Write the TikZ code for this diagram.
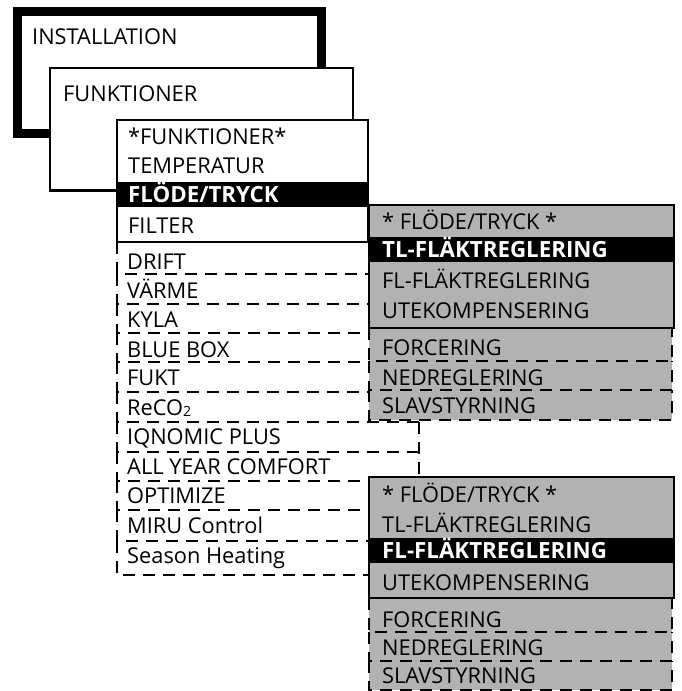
\documentclass[tikz,border=0pt]{standalone}
\usepackage{fontspec}
\setmainfont{Open Sans}
\definecolor{panelgray}{RGB}{178,178,178}
\begin{document}
\begin{tikzpicture}[x=1pt,y=-1pt,
  lbl/.style={anchor=base west,inner sep=0pt,font=\fontsize{21.8}{24}\selectfont},
  hl/.style={anchor=base west,inner sep=0pt,text=white,font=\fontsize{22.3}{24}\selectfont\bfseries},
  dsh/.style={line width=2.3pt,dash pattern=on 12pt off 8pt},
  solidbox/.style={draw=black,line width=2.2pt},
  graybox/.style={draw=black,line width=1.8pt,fill=panelgray}]
\useasboundingbox (0,0) rectangle (681,691);

% INSTALLATION frame
\draw[line width=8.5pt,fill=white] (17.5,11.5) rectangle (321.5,133.5);
\node[lbl] (inst) at (32,44) {INSTALLATION};

% FUNKTIONER frame
\draw[solidbox,fill=white] (50,68) rectangle (353,190.5);
\node[lbl] (funk) at (63,101.5) {FUNKTIONER};

% dashed list rows
\foreach \t/\b in {242/274,274/304,304/333,333/362,362/392,392/422,422/452,452/481,481/510,510/541,541/575}{
  \draw[dsh] (117,\t) -- (117,\b) -- (419,\b);
}
\draw[dsh] (419,242) -- (419,575);
\node[lbl] (drift) at (127,269) {DRIFT};
\node[lbl] (varme) at (127,298) {VÄRME};
\node[lbl] (kyla) at (127,327) {KYLA};
\node[lbl] (bluebox) at (127,357) {BLUE BOX};
\node[lbl] (fukt) at (127,385) {FUKT};
\node[lbl] (reco) at (127,415) {ReCO{\fontsize{14}{16}\selectfont\raisebox{-1pt}{2}}};
\node[lbl] (iqn) at (127,444) {IQNOMIC PLUS};
\node[lbl] (ayc) at (127,474) {ALL YEAR COMFORT};
\node[lbl] (opt) at (127,503) {OPTIMIZE};
\node[lbl] (miru) at (127,533) {MIRU Control};
\node[lbl] (season) at (127,563) {Season Heating};

% white function list
\draw[solidbox,fill=white] (117.3,120.3) rectangle (368,242);
\fill[black] (117.3,181.5) rectangle (368,207);
\node[lbl] (fhead) at (128,144) {*FUNKTIONER*};
\node[lbl] (temp) at (128,173) {TEMPERATUR};
\node[hl] (flode) at (128,202) {FLÖDE/TRYCK};
\node[lbl] (filter) at (128,233) {FILTER};

% gray panel 1
\fill[panelgray] (369,328) rectangle (672,420);
\foreach \t/\b in {328/361,361/390,390/420}{
  \draw[dsh] (369,\t) -- (369,\b) -- (672,\b) -- (672,\t);
}
\draw[graybox] (369,205) rectangle (674,328);
\fill[black] (369,237) rectangle (674,262);
\node[lbl] (pa0) at (382,229) {* FLÖDE/TRYCK *};
\node[hl] (pa1) at (382,257.5) {TL-FLÄKTREGLERING};
\node[lbl] (pa2) at (382,288) {FL-FLÄKTREGLERING};
\node[lbl] (pa3) at (382,318) {UTEKOMPENSERING};
\node[lbl] (pa4) at (382,355) {FORCERING};
\node[lbl] (pa5) at (382,385) {NEDREGLERING};
\node[lbl] (pa6) at (382,413) {SLAVSTYRNING};

% gray panel 2
\fill[panelgray] (369,598) rectangle (672,690);
\foreach \t/\b in {598/632,632/661,661/690}{
  \draw[dsh] (369,\t) -- (369,\b) -- (672,\b) -- (672,\t);
}
\draw[graybox] (369,477) rectangle (674,598);
\fill[black] (369,538) rectangle (674,563);
\node[lbl] (pb0) at (382,502) {* FLÖDE/TRYCK *};
\node[lbl] (pb1) at (382,532) {TL-FLÄKTREGLERING};
\node[hl] (pb2) at (382,558.5) {FL-FLÄKTREGLERING};
\node[lbl] (pb3) at (382,590) {UTEKOMPENSERING};
\node[lbl] (pb4) at (382,627) {FORCERING};
\node[lbl] (pb5) at (382,655) {NEDREGLERING};
\node[lbl] (pb6) at (382,683) {SLAVSTYRNING};
\end{tikzpicture}
\end{document}
